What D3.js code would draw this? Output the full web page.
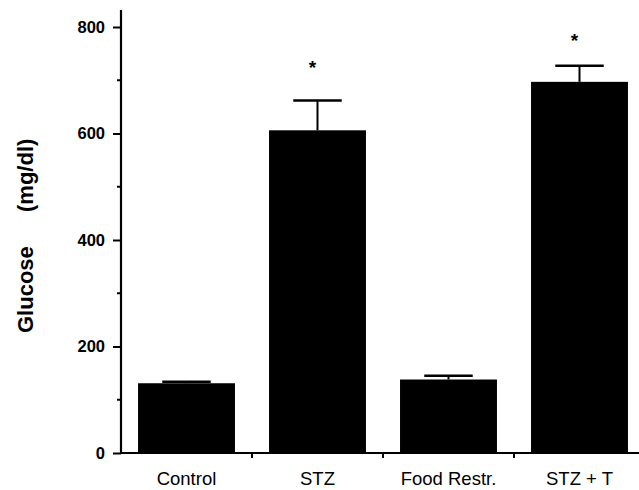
<!DOCTYPE html>
<html><head><meta charset="utf-8">
<script src="https://cdn.jsdelivr.net/npm/d3@7"></script>
<style>body{margin:0;background:#fff}svg{display:block}text{font-family:"Liberation Sans",Arial,Helvetica,sans-serif}</style>
</head><body>
<svg id="c" width="639" height="490"></svg>
<script>
const categories = ["Control", "STZ", "Food Restr.", "STZ + T"];
const glucose = [131, 606, 138, 697];
const sem = [3, 56, 7, 30];
const starValues = [null, 730, null, 781];
const majorTicks = [0, 200, 400, 600, 800];
const minorTicks = [100, 300, 500, 700];

const svg = d3.select("#c");
const y = d3.scaleLinear().domain([0, 800]).range([453, 27]);
const x = d3.scaleBand().domain(categories).range([121, 645]).padding(0);
const barW = x.bandwidth() * 0.74;
const capW = x.bandwidth() * 0.37;

// bars
svg.append("g").selectAll("rect").data(categories).join("rect")
  .attr("x", d => x(d) + (x.bandwidth() - barW) / 2)
  .attr("width", barW)
  .attr("y", (d, i) => y(glucose[i]))
  .attr("height", (d, i) => y(0) - y(glucose[i]))
  .attr("fill", "#000");

// error bars
const eb = svg.append("g").attr("stroke", "#000").attr("stroke-width", 2);
categories.forEach((c, i) => {
  const cx = x(c) + x.bandwidth() / 2;
  eb.append("line").attr("x1", cx).attr("x2", cx).attr("y1", y(glucose[i])).attr("y2", y(glucose[i] + sem[i]));
  eb.append("line").attr("x1", cx - capW / 2).attr("x2", cx + capW / 2).attr("y1", y(glucose[i] + sem[i])).attr("y2", y(glucose[i] + sem[i])).attr("stroke-width", 2.5);
  if (starValues[i] != null) {
    svg.append("text").attr("x", cx - 5).attr("y", y(starValues[i]) + 10)
      .attr("text-anchor", "middle").attr("font-size", 19).attr("font-weight", "bold").text("*");
  }
});

// y axis
const yAxis = d3.axisLeft(y).tickValues(majorTicks).tickSize(8).tickPadding(8).tickFormat(d3.format("d"));
const gy = svg.append("g").attr("transform", "translate(121,0)").call(yAxis);
gy.select(".domain").attr("stroke-width", 2.2).attr("d", "M0,10V454");
gy.selectAll(".tick line").attr("stroke-width", 2);
gy.selectAll(".tick text").attr("font-size", 16.5).attr("font-weight", "bold").attr("fill", "#000");
gy.selectAll(".minor").data(minorTicks).join("line").attr("class", "minor")
  .attr("x1", -4).attr("x2", 0).attr("y1", d => y(d)).attr("y2", d => y(d))
  .attr("stroke", "#000").attr("stroke-width", 2);

// x axis
const gx = svg.append("g");
gx.append("line").attr("x1", 120).attr("x2", 639).attr("y1", y(0)).attr("y2", y(0)).attr("stroke", "#000").attr("stroke-width", 2.2);
gx.selectAll(".xt").data(categories.slice(1)).join("line").attr("class", "xt")
  .attr("x1", d => x(d)).attr("x2", d => x(d)).attr("y1", y(0)).attr("y2", y(0) + 5)
  .attr("stroke", "#000").attr("stroke-width", 2);
gx.selectAll(".xl").data(categories).join("text").attr("class", "xl")
  .attr("x", d => x(d) + x.bandwidth() / 2).attr("y", 485)
  .attr("text-anchor", "middle").attr("font-size", 18.5).attr("fill", "#000").text(d => d);

// y label
svg.append("text").attr("transform", "translate(33,333) rotate(-90)")
  .attr("text-anchor", "start").attr("font-size", 22).attr("font-weight", "bold").text("Glucose");
svg.append("text").attr("transform", "translate(33,212) rotate(-90)")
  .attr("text-anchor", "start").attr("font-size", 22).attr("font-weight", "bold").text("(mg/dl)");
</script>
</body></html>
